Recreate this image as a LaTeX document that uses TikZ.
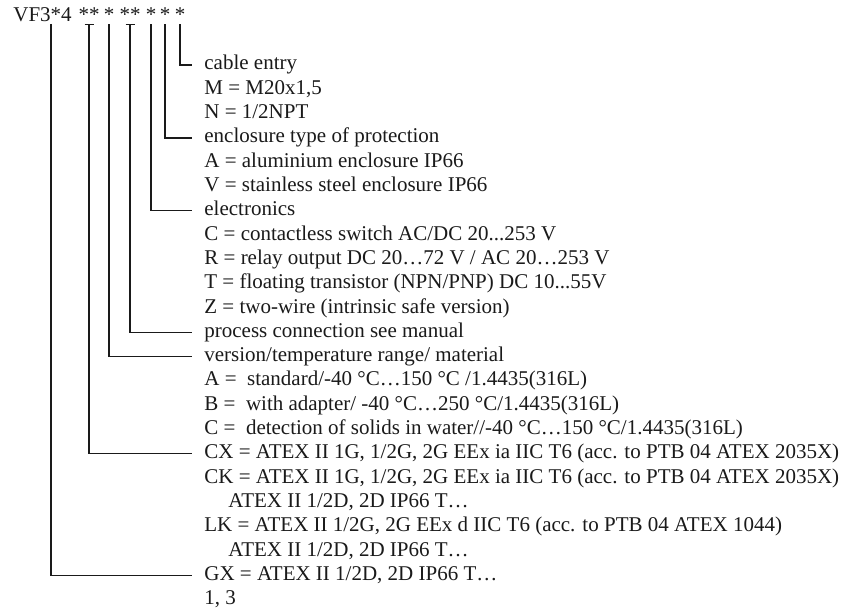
\documentclass[tikz,border=0pt]{standalone}
\usepackage{fontspec}
\setmainfont{Liberation Serif}
\usepackage{xcolor}
\usepackage{tikz}
\usetikzlibrary{calc,positioning}
\definecolor{ink}{HTML}{1A1A1A}
\definecolor{paper}{HTML}{FFFFFF}
\tikzset{
  every node/.style={font=\fontsize{10.5}{12}\selectfont,text=ink},
  code/.style={anchor=base west,inner sep=0pt},
  star/.style={anchor=base,inner xsep=0pt,inner ysep=1pt},
  lab/.style={anchor=west,inner xsep=6pt,inner ysep=0pt,
              text height=0.7em,text depth=0.2em},
  wire/.style={draw=ink,line width=0.65pt},
}
\begin{document}
\begin{tikzpicture}[x=0.5pt,y=-0.5pt]
\fill[paper] (0,0) rectangle (854,609);
\useasboundingbox (0,0) rectangle (854,609);
% type code
\node[code] (vf) at (13,22) {VF3*4};
\node[star] (s1) at (89,22) {**};
\node[star] (s2) at (109,22) {*};
\node[star] (s3) at (130,22) {**};
\node[star] (s4) at (151,22) {*};
\node[star] (s5) at (165,22) {*};
\node[star] (s6) at (180,22) {*};
\coordinate (s0) at (51,24);
% option texts
\node[lab] (cab)  at (192,65.0)  {cable entry};
\node[lab] (cabm) at (192,89.3)  {M = M20x1,5};
\node[lab] (cabn) at (192,113.6) {N = 1/2NPT};
\node[lab] (enc)  at (192,137.9) {enclosure type of protection};
\node[lab] (enca) at (192,162.2) {A = aluminium enclosure IP66};
\node[lab] (encv) at (192,186.5) {V = stainless steel enclosure IP66};
\node[lab] (ele)  at (192,210.8) {electronics};
\node[lab] (elec) at (192,235.1) {C = contactless switch AC/DC 20...253 V};
\node[lab] (eler) at (192,259.4) {R = relay output DC 20…72 V / AC 20…253 V};
\node[lab] (elet) at (192,283.7) {T = floating transistor (NPN/PNP) DC 10...55V};
\node[lab] (elez) at (192,308.0) {Z = two-wire (intrinsic safe version)};
\node[lab] (proc) at (192,332.3) {process connection see manual};
\node[lab] (ver)  at (192,356.6) {version/temperature range/ material};
\node[lab] (vera) at (192,380.9) {A =\ \ standard/-40 °C…150 °C /1.4435(316L)};
\node[lab] (verb) at (192,405.2) {B =\ \ with adapter/ -40 °C…250 °C/1.4435(316L)};
\node[lab] (verc) at (192,429.5) {C =\ \ detection of solids in water//-40 °C…150 °C/1.4435(316L)};
\node[lab] (cx)   at (192,453.8) {CX = ATEX II 1G, 1/2G, 2G EEx ia IIC T6 (acc. to PTB 04 ATEX 2035X)};
\node[lab] (ck)   at (192,478.1) {CK = ATEX II 1G, 1/2G, 2G EEx ia IIC T6 (acc. to PTB 04 ATEX 2035X)};
\node[lab] (ckd)  at (216,502.4) {ATEX II 1/2D, 2D IP66 T…};
\node[lab] (lk)   at (192,526.7) {LK = ATEX II 1/2G, 2G EEx d IIC T6 (acc. to PTB 04 ATEX 1044)};
\node[lab] (lkd)  at (216,551.0) {ATEX II 1/2D, 2D IP66 T…};
\node[lab] (gx)   at (192,575.3) {GX = ATEX II 1/2D, 2D IP66 T…};
\node[lab] (gxn)  at (192,599.6) {1, 3};
% leader lines
\draw[wire] (s6.south) |- (cab.west);
\draw[wire] (s5.south) |- (enc.west);
\draw[wire] (s4.south) |- (ele.west);
\draw[wire] (s3.south) |- (proc.west);
\draw[wire] (s2.south) |- (ver.west);
\draw[wire] (s1.south) |- (cx.west);
\draw[wire] (s0) |- (gx.west);
\draw[wire] ($(s1.south)+(-4.5,0)$) -- ($(s1.south)+(4.5,0)$);
\draw[wire] ($(s3.south)+(-4.5,0)$) -- ($(s3.south)+(4.5,0)$);
\end{tikzpicture}
\end{document}
